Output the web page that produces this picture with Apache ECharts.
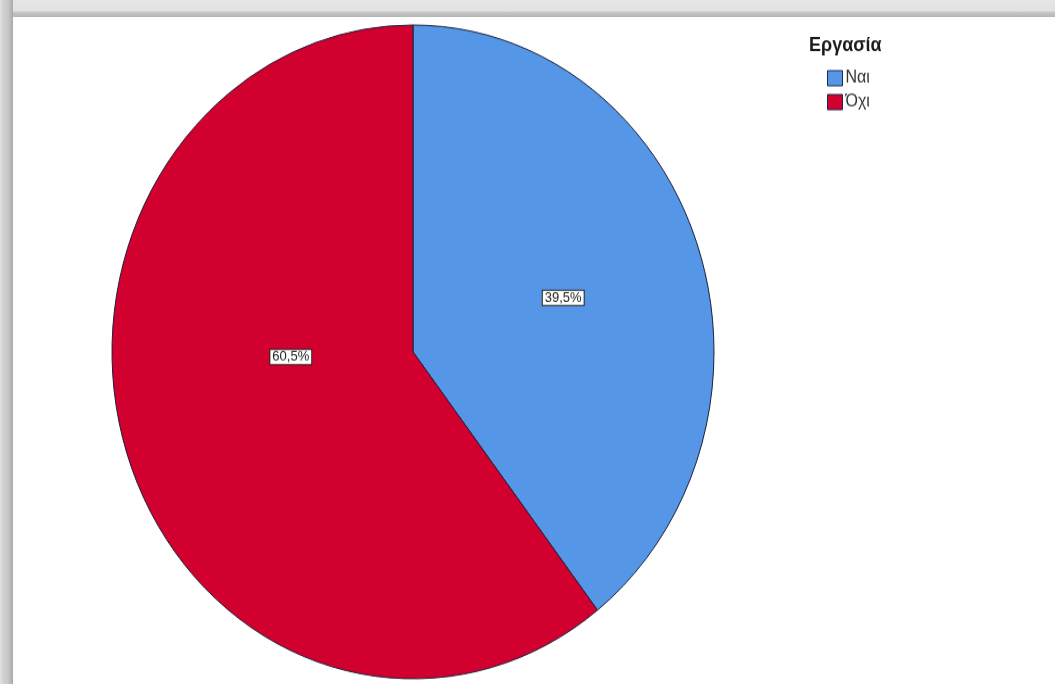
<!DOCTYPE html>
<html>
<head>
<meta charset="utf-8">
<script src="https://cdn.jsdelivr.net/npm/echarts@6/dist/echarts.min.js"></script>
<style>
    html, body { margin: 0; padding: 0; background: #fff; overflow: hidden; }
    #wrap { position: relative; width: 1055px; height: 684px; }
    #chart {
        position: absolute; left: 0; top: 0;
        width: 1055px; height: 630px;
        transform: scaleY(1.086);
        transform-origin: 0 0;
    }
    .edge-top {
        position: absolute; left: 0; top: 0; width: 1055px; height: 17px;
        background: linear-gradient(to bottom, #e6e6e6 0, #e2e2e2 11px, #c8c8c8 12px, #b4b4b4 17px);
    }
    .edge-left {
        position: absolute; left: 0; top: 0; width: 13px; height: 684px;
        background: linear-gradient(to right, #e2e2e2 0, #d2d2d2 3px, #c8c8c8 8px, #a9a9a9 13px);
    }
</style>
</head>
<body>
<div id="wrap">
    <div id="chart"></div>
    <div class="edge-top"></div>
    <div class="edge-left"></div>
</div>
<script>
const categories = ["Ναι", "Όχι"];
const percents = [39.5, 60.5];
const colors = ["#5596e6", "#d1002e"];
const legendTitle = "Εργασία";

const chart = echarts.init(document.getElementById("chart"), null, { renderer: "canvas" });

const pieData = categories.map((name, i) => ({
    name: name,
    value: percents[i],
    itemStyle: { color: colors[i] },
    label: { offset: i === 0 ? [5, 0] : [23, -45] }
}));

const option = {
    animation: false,
    title: {
        text: legendTitle,
        left: 809,
        top: 33,
        padding: 0,
        textStyle: {
            fontFamily: "Liberation Sans",
            fontSize: 18,
            fontWeight: "bold",
            color: "#1a1a1a"
        }
    },
    legend: {
        orient: "vertical",
        left: 827,
        top: 64,
        padding: 0,
        itemWidth: 15,
        itemHeight: 14,
        itemGap: 6,
        data: categories,
        icon: "rect",
        itemStyle: { borderColor: "#1e2a4a", borderWidth: 1 },
        textStyle: {
            fontFamily: "Liberation Sans",
            fontSize: 16,
            color: "#333",
            padding: [0, 0, 0, -2]
        }
    },
    series: [{
        type: "pie",
        center: [413, 324],
        radius: 301,
        startAngle: 90,
        clockwise: true,
        data: pieData,
        itemStyle: {
            borderColor: "#1a1f3a",
            borderWidth: 1
        },
        label: {
            position: "inside",
            formatter: (p) => p.value.toFixed(1).replace(".", ",") + "%",
            fontFamily: "Liberation Sans",
            fontSize: 13,
            color: "#222",
            backgroundColor: "#fff",
            borderColor: "#222",
            borderWidth: 1,
            padding: [0, 2, 0, 2]
        },
        labelLine: { show: false },
        emphasis: { disabled: true }
    }]
};

chart.setOption(option);
</script>
</body>
</html>
